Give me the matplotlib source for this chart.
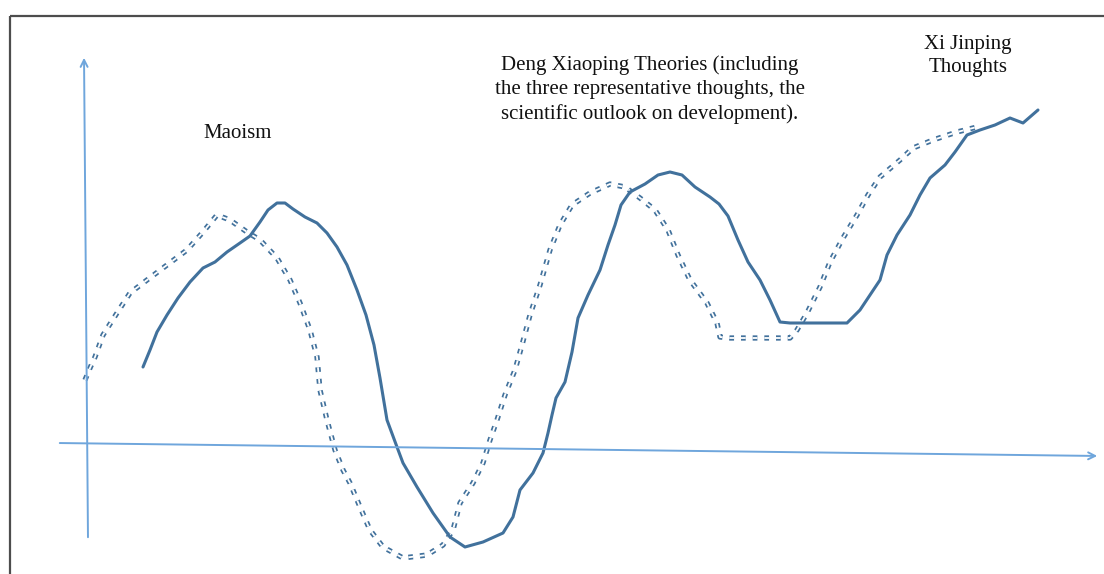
import matplotlib.pyplot as plt

# chart units: origin where the two hand-drawn axes cross, y up
solid_x = [55, 62, 69, 79, 90, 102, 115, 127, 139, 152,
           162, 172, 180, 189, 197, 205, 217, 229, 239, 249,
           259, 269, 278, 286, 292, 299, 309, 315, 329, 345,
           362, 377, 395, 415, 425, 432, 445, 455, 460, 464,
           468, 477, 484, 490, 500, 512, 520, 527, 533, 542,
           557, 570, 582, 594, 607, 622, 631, 640, 650, 660,
           672, 682, 692, 702, 732, 759, 772, 782, 792, 799,
           809, 822, 832, 842, 857, 867, 879, 892, 907, 922,
           935, 950]
solid_y = [77, 94, 112, 129, 146, 162, 176, 182, 192, 201,
           208, 222, 234, 241, 241, 235, 227, 221, 211, 197,
           179, 154, 129, 99, 66, 24, -3, -19, -43, -69,
           -93, -103, -98, -89, -73, -46, -29, -9, 11, 29,
           46, 62, 92, 126, 149, 174, 199, 219, 239, 252,
           260, 269, 272, 269, 257, 247, 240, 228, 204, 182,
           164, 144, 122, 121, 121, 121, 134, 149, 164, 189,
           209, 229, 249, 266, 279, 292, 309, 314, 319, 326,
           321, 334]

dashed_x = [-3, 2, 7, 15, 29, 42, 59, 79, 99, 115,
            129, 142, 159, 172, 189, 202, 212, 222, 229, 232,
            239, 247, 255, 262, 272, 282, 295, 315, 339, 355,
            365, 372, 385, 395, 402, 409, 417, 427, 434, 442,
            452, 462, 472, 484, 502, 522, 537, 552, 567, 580,
            590, 602, 619, 629, 632, 642, 672, 702, 709, 719,
            732, 742, 755, 769, 780, 792, 812, 825, 845, 869,
            889]
dashed_y = [64, 76, 87, 109, 131, 151, 164, 179, 194, 212,
            229, 224, 212, 204, 186, 164, 141, 114, 87, 54,
            24, -6, -26, -39, -63, -86, -103, -114, -111, -101,
            -86, -59, -39, -19, 4, 24, 49, 74, 99, 129,
            159, 194, 219, 239, 251, 260, 257, 246, 234, 214,
            189, 164, 141, 121, 107, 106, 106, 106, 114, 131,
            157, 182, 206, 229, 249, 267, 284, 296, 304, 312,
            317]

labels = ["Maoism",
          "Deng Xiaoping Theories (including\nthe three representative thoughts, the\nscientific outlook on development).",
          "Xi Jinping\nThoughts"]
label_x = [150, 562, 880]
label_y = [311, 354, 388]

line_col = '#41719c'
axis_col = '#6fa6dc'

plt.rcParams['lines.scale_dashes'] = False
fig = plt.figure(figsize=(11.04, 5.74), dpi=100)
ax = fig.add_axes([0, 0, 1, 1])
ax.set_xlim(-88, 1016)
ax.set_ylim(-130, 444)
ax.axis('off')

# frame (top and left edges)
ax.plot([-78, 1016], [428, 428], color='#4d4d4d', lw=1.6, solid_capstyle='butt')
ax.plot([-78, -78], [428, -130], color='#4d4d4d', lw=1.6, solid_capstyle='butt')

# hand-drawn axes
ax.annotate('', xy=(-4, 389), xytext=(0, -96),
            arrowprops=dict(arrowstyle='->,head_length=0.5,head_width=0.25',
                            color=axis_col, lw=1.4))
ax.annotate('', xy=(1012, -12), xytext=(-31, 1),
            arrowprops=dict(arrowstyle='->,head_length=0.5,head_width=0.25',
                            color=axis_col, lw=1.4))

# double dashed curve: dashed stroke with a thin white core
ax.plot(dashed_x, dashed_y, color=line_col, lw=3.8, dashes=(3.4, 5.0),
        dash_capstyle='butt', dash_joinstyle='round')
ax.plot(dashed_x, dashed_y, color='white', lw=1.3, dashes=(3.4, 5.0),
        dash_capstyle='butt', dash_joinstyle='round')

# solid curve
ax.plot(solid_x, solid_y, color=line_col, lw=2.2,
        solid_joinstyle='round', solid_capstyle='round')

for t, x, y in zip(labels, label_x, label_y):
    ax.text(x, y, t, ha='center', va='center', fontsize=15,
            family='Liberation Serif', linespacing=1.35, color='#111111')

fig.savefig('out.png', dpi=100)
